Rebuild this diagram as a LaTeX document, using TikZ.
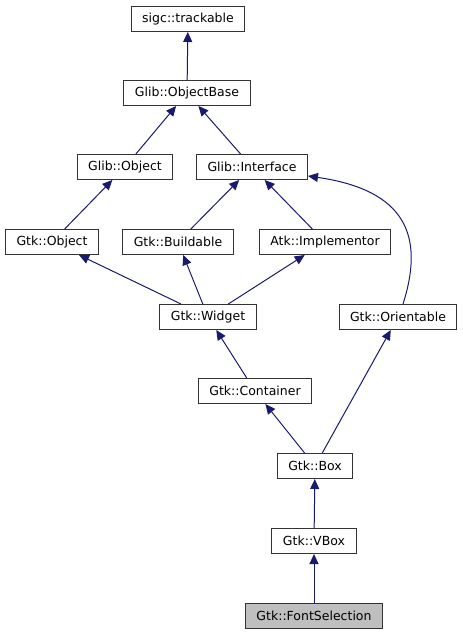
\documentclass[tikz,border=0pt]{standalone}
\usepackage{fontspec}
\setmainfont{DejaVu Sans}
\usetikzlibrary{arrows.meta}

\definecolor{edgeblue}{HTML}{191970}
\definecolor{leafgray}{HTML}{BFBFBF}

\begin{document}
\begin{tikzpicture}[x=1bp,y=-1bp,
    cls/.style={draw=black!80,line width=1bp,fill=white,minimum height=25bp,
        inner xsep=11bp,inner ysep=0pt,font=\fontsize{12.5bp}{15bp}\selectfont},
    inh/.style={draw=edgeblue,line width=1bp,-{Triangle[length=10bp,width=9bp]}}]
    \useasboundingbox (0,0) rectangle (463,635);
    % classes, top to bottom
    \node[cls] (trackable)   at (188,19)  {sigc::trackable};
    \node[cls] (objectbase)  at (187,93)  {Glib::ObjectBase};
    \node[cls] (glibobject)  at (125,167) {Glib::Object};
    \node[cls] (interface)   at (252,167) {Glib::Interface};
    \node[cls] (gtkobject)   at (52,242)  {Gtk::Object};
    \node[cls] (buildable)   at (178,242) {Gtk::Buildable};
    \node[cls] (implementor) at (325,242) {Atk::Implementor};
    \node[cls] (widget)      at (208,317) {Gtk::Widget};
    \node[cls] (orientable)  at (398,317) {Gtk::Orientable};
    \node[cls] (container)   at (255,391) {Gtk::Container};
    \node[cls] (box)         at (315,466) {Gtk::Box};
    \node[cls] (vbox)        at (314,541) {Gtk::VBox};
    \node[cls,fill=leafgray] (fontsel) at (314,616) {Gtk::FontSelection};
    % inheritance
    \draw[inh] (objectbase) -- (trackable);
    \draw[inh] (glibobject) -- (objectbase);
    \draw[inh] (interface) -- (objectbase);
    \draw[inh] (gtkobject) -- (glibobject);
    \draw[inh] (buildable) -- (interface);
    \draw[inh] (implementor) -- (interface);
    \draw[inh] (widget) -- (gtkobject);
    \draw[inh] (widget) -- (buildable);
    \draw[inh] (widget) -- (implementor);
    \draw[inh] ([xshift=5bp]orientable.north) .. controls (425,235) and (405,190)
        .. ([yshift=-9bp]interface.east);
    \draw[inh] (container) -- (widget);
    \draw[inh] (box) -- (container);
    \draw[inh] (box) -- (orientable);
    \draw[inh] (vbox) -- (box);
    \draw[inh] (fontsel) -- (vbox);
\end{tikzpicture}
\end{document}
